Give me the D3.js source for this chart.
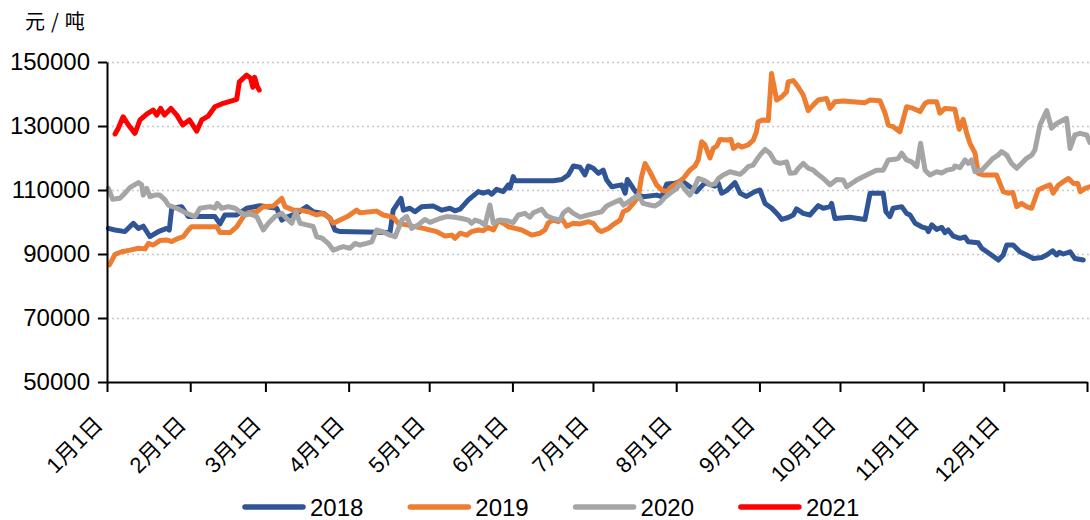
<!DOCTYPE html>
<html><head><meta charset="utf-8">
<script src="https://cdn.jsdelivr.net/npm/d3@7"></script>
<style>body{margin:0;background:#fff;}svg{display:block;}</style>
</head><body><svg id="c" width="1090" height="520"></svg>
<script>
// ---- data (x = day of year, 0 = Jan 1) ----
const monthDays = [0,31,59,90,120,151,181,212,243,273,304,334,365];
const monthLabels = ["1月1日","2月1日","3月1日","4月1日","5月1日","6月1日","7月1日","8月1日","9月1日","10月1日","11月1日","12月1日"];
const yTicks = [50000,70000,90000,110000,130000,150000];
const yUnit = "元/吨";
const seriesNames = ["2018","2019","2020","2021"];

const days2018 = [0.5,3,6.7,9.8,11.7,13.5,16,19.1,22.2,23.2,24.1,27.8,30.3,40.2,42.1,43.9,48.3,52,57,63.2,65.1,67.5,70.7,74.4,76.8,80.6,83.1,84.9,86.8,105.4,106.6,109.5,110.4,112.8,114.7,117.2,121.5,124.7,127.7,129.6,131.5,134.6,138.3,140.1,142,143.3,145.1,147.6,149.5,150.1,151.3,152,166.2,169.4,171.8,173.7,176.2,178,179.3,181.1,183,184.8,186.1,188,191.7,193,193.8,196,197.9,199.7,204.7,206.6,208.5,211.5,214,217.1,219.6,222.7,226.4,227.7,228.9,230.8,233.9,235.8,238.2,241.3,243.2,245.1,247.6,250,251.3,253.7,255.6,256.8,259.3,261.8,264.9,266.8,269.3,269.9,271.1,276.7,282.3,284.2,289.1,290.1,291.6,292.8,296,297.8,299.1,301,303.4,305.3,305.9,307.2,309,310.9,312.1,313.3,315.2,317.7,319.6,320.8,324.5,325.8,328.9,332,333.8,335.1,337.5,340,342.5,345,348.1,350,352.2,353.7,354.7,356.2,358.7,360.5,363.6];
const vals2018 = [98000,97500,97000,99600,98000,98700,95400,97000,98000,97500,104300,104800,101700,101700,99400,102200,102200,104300,105100,104300,100600,101700,102700,104800,103200,102700,101100,97500,97000,96700,103700,107400,103700,104300,103200,104800,105000,103700,104300,103500,104000,106900,109500,109000,109500,108700,110200,109500,111600,110600,114200,112900,112900,113300,114700,117500,117100,114700,117500,116800,115200,116200,113100,111000,111600,109000,113300,110500,108400,107900,108400,107900,111900,112100,112900,111000,109500,112300,111200,112100,109000,109800,112300,109000,108000,109500,110000,105800,104300,102200,100800,101400,102200,104100,102700,102200,105100,104300,104800,105800,101100,101500,100800,109000,109000,103200,101700,104300,104800,102700,102200,99600,98500,98000,97000,99100,97700,98300,96700,97500,95600,94900,95300,93800,93500,91800,90000,88100,89700,92800,92800,90700,89700,88600,88900,89700,91000,89700,90500,90000,90700,88600,88100];

const days2019 = [0.9,3,5.5,8.6,11.7,14.2,15.4,17.2,19.7,22.2,24.1,26.6,28.4,30.3,31.5,40.9,42.1,45.8,48.3,50.8,52,55.8,58.2,61.9,65.1,66.3,69.4,71.9,75,78.1,80,82.4,84.3,86.8,89.9,93,94.2,100.4,102.9,106.6,108.5,111.6,117.8,122.8,125.9,128.4,129.6,131.5,134,135.8,138.3,140.1,142,143.9,145.7,147.6,149.5,152,154.5,158.2,161.3,163.1,164.4,166.2,168.1,169.4,171.2,173.7,176.2,179.3,181.1,183,184.2,186.7,189.2,191.1,192.3,194.2,196,197.9,199.1,200.4,202.2,204.7,206.6,208.5,210.3,212.2,214.6,217.1,219,220.2,221.5,222.7,224.6,225.8,227.1,228.3,230.8,232.4,233.3,235.1,236.4,238.8,240.7,241.9,242.5,244.4,246.3,247.5,249.4,251.3,253.1,253.7,255.6,257.5,259.3,261.2,263.1,264.9,268,269.3,271.1,274.2,282.3,284.2,287.9,289.8,291,292.8,295.3,297.8,300.3,302.8,304.7,305.9,309,310.2,312.1,315.8,317.4,318.9,320.2,321.4,323.3,324.5,326.3,331.3,333.8,335.6,337.4,338.8,340.6,342.5,344.4,346.8,349.3,351.2,352.4,354.3,356.2,358.1,360,361.6,362.5,364.3,366];
const vals2019 = [86600,89900,90700,91200,91800,91600,93300,92800,94200,94400,93900,94900,95400,97500,98500,98500,96700,96700,98500,101700,102700,103200,104800,105000,107400,104800,103700,103700,103200,102200,102700,101700,99600,100600,101900,103700,102900,103400,102200,101500,99600,99100,98000,97000,95600,95900,94900,96500,95900,97000,97500,97300,98300,97500,100400,99600,98500,98000,97500,95900,96500,97500,99800,100600,100100,101100,98700,99600,99400,100100,99600,97500,97000,98000,99600,100600,103200,104000,105800,107900,114200,118300,115700,111600,110000,109500,111000,112100,113600,116200,117500,119400,125100,124100,120000,123000,123700,125800,125600,125800,123000,124100,123400,124100,125600,128200,131300,131900,131700,146400,138100,139100,140700,143800,144200,142100,139700,134800,136600,138100,138600,135500,137600,137800,137300,138100,137900,134000,130300,129800,128200,136000,135500,134500,137100,137600,137600,134000,135500,135200,129000,132100,127700,124600,121500,115200,114700,114700,109500,109000,109200,104800,105800,104800,104300,110000,111000,111600,109000,111500,112600,113600,112000,112000,109500,110500,111000];

const days2020 = [0.5,2.1,4.8,6.7,8.6,11.7,12.9,13.5,14.8,16,17.9,19.7,21.6,22.8,26,29.7,32.8,34.6,38.4,40.2,41.1,42.7,45.2,47.7,49.5,51.4,53.3,55.8,58.2,60.1,62.6,65.1,66.9,68.8,70.4,71.9,74.4,76.8,78.1,80,82.4,84.3,86.2,88,90.5,92.4,94.2,96.7,98.6,100.4,102.9,105.4,107.3,109.8,111.6,113.5,115.9,118.4,120.3,124,126.5,129.6,132.1,134.6,135.8,137.1,138.9,140.8,142.6,143.9,146.4,148.9,151.3,153.2,155.7,157.5,158.8,161.9,163.8,166.2,168.7,170,171.8,173.7,176.2,179.3,181.7,184.2,186.1,188.6,191.1,192.3,194.2,196,197.9,199.7,202.2,204.1,206,207.8,209.7,212.2,213.4,214.6,215.9,217.1,218.6,220.2,222.1,223.3,224.6,226.4,227.7,229.5,232,233.9,235.8,237,238.8,240.7,241.9,243.2,245.1,246.9,248.8,250.7,253.1,254.4,256.3,257.5,259.3,261.2,263.1,264.3,266.8,269.3,271.8,274.2,275.5,279.2,282.9,286.6,289.1,291,293.5,294.7,296,297.8,299.7,301.6,303,304.7,306.5,309,310.9,312.8,315.2,315.8,317.7,319.6,320.8,322,323.3,325.8,328.2,330,331.9,333.2,335.1,336.9,338.8,340.6,342.5,344.4,345.6,347.5,350,351.8,353.7,357.4,358.7,360.5,362.4,364.9,366.1];
const vals2020 = [110500,107100,107400,109000,110800,112300,111600,108400,110500,107900,108400,108400,106900,105300,104300,102700,101700,104300,104800,104300,105800,104300,104800,104300,103200,102200,102500,101700,97500,99600,101700,102700,101100,99600,103200,99600,99100,98600,95400,95000,93300,91200,91800,92300,91800,93300,92800,93300,93800,97500,96900,95900,95400,100600,101700,98000,99100,100800,99900,101100,101700,101500,101100,100600,99600,100600,100100,99100,105300,99600,100600,100400,99800,102200,102700,101500,102900,104000,101900,101100,100600,102900,104000,102700,101500,102200,102700,103200,105000,106000,106900,105300,106300,107400,108400,105800,105300,105000,106000,107700,109000,110500,112100,111000,109500,108400,110500,113600,113100,112600,111600,111900,113600,114700,115700,115300,114900,115700,117300,117800,119400,120900,122700,121500,118800,118300,118800,115200,115400,116800,118300,116800,116200,115200,113600,111600,113300,113100,111000,113100,114700,116200,116200,119400,119600,119900,121500,119400,118800,117300,124600,116200,114700,115700,115300,116200,116600,117500,117000,119400,118300,119400,115700,116200,118300,119900,120900,122000,120900,118300,116800,118300,119900,120900,122500,130300,134800,129300,130800,132400,123000,127200,127700,127200,124800];

const days2021 = [3,4.2,6,8,10.4,12.3,14.8,17.2,18.5,20,21.4,23.8,26,28.2,30.7,33.4,35.3,37.7,40.2,43.3,48.3,49.3,52,53.5,54.3,55,56,56.7];
const vals2021 = [127500,129300,132900,130300,127700,131900,133700,135000,133400,135500,133400,135500,133400,130300,131900,128400,131900,133100,136000,137100,138300,143800,145900,144900,142100,145200,142300,141200];

const seriesDays = [days2018, days2019, days2020, days2021];
const seriesVals = [vals2018, vals2019, vals2020, vals2021];
const colors = ["#2F5597","#ED7D31","#A5A5A5","#FF0000"];

// ---- drawing ----
const svg = d3.select("#c");
const x = d3.scaleLinear().domain([0,365]).range([107,1087]);
const y = d3.scaleLinear().domain([50000,150000]).range([382,62]);
const numFont = "'Liberation Sans', Arial, sans-serif";
const cjkFont = "'Liberation Sans', 'Noto Sans CJK SC', sans-serif";

// gridlines
svg.append("g").selectAll("line").data(yTicks.filter(d => d > 50000)).join("line")
  .attr("x1", 107).attr("x2", 1090)
  .attr("y1", d => Math.round(y(d)) + 0.5).attr("y2", d => Math.round(y(d)) + 0.5)
  .attr("stroke", "#c8c8c8").attr("stroke-width", 1.5).attr("stroke-dasharray", "2,3");

// lines
const line = d3.line().x(d => x(d[0])).y(d => y(d[1]));
seriesNames.forEach((name, i) => {
  const pts = seriesDays[i].map((d, j) => [d, seriesVals[i][j]]);
  svg.append("path").datum(pts).attr("d", line)
    .attr("fill", "none").attr("stroke", colors[i]).attr("stroke-width", 5)
    .attr("stroke-linejoin", "round").attr("stroke-linecap", "round");
});

// y axis
const yAxis = svg.append("g").attr("transform", "translate(107,0)")
  .call(d3.axisLeft(y).tickValues(yTicks).tickSize(9).tickSizeOuter(0).tickPadding(8).tickFormat(d3.format("d")));
yAxis.select(".domain").attr("stroke", "#000").attr("stroke-width", 2);
yAxis.selectAll(".tick line").attr("stroke", "#000").attr("stroke-width", 2);
yAxis.selectAll("text").attr("font-family", numFont).attr("font-size", 24).attr("fill", "#000");

// x axis
const xAxis = svg.append("g").attr("transform", "translate(0,382)")
  .call(d3.axisBottom(x).tickValues(monthDays).tickSize(10).tickSizeOuter(0).tickFormat(""));
xAxis.select(".domain").attr("stroke", "#000").attr("stroke-width", 2);
xAxis.selectAll(".tick line").attr("stroke", "#000").attr("stroke-width", 2);

svg.append("g").selectAll("text").data(monthLabels).join("text")
  .attr("transform", (d, i) => `translate(${x(monthDays[i]) - 3},426) rotate(-45)`)
  .attr("text-anchor", "end")
  .attr("font-family", cjkFont).attr("font-size", 22).attr("fill", "#000")
  .text(d => d);

// unit label
svg.append("text").attr("x", 25).attr("y", 29).attr("font-family", "'Noto Sans CJK SC', sans-serif")
  .attr("font-size", 20).attr("letter-spacing", 6).attr("fill", "#000").text(yUnit);

// legend
const lg = svg.append("g").attr("transform", "translate(245,507)");
seriesNames.forEach((name, i) => {
  const gx = i * 165.3;
  lg.append("line").attr("x1", gx).attr("x2", gx + 58).attr("y1", 0).attr("y2", 0)
    .attr("stroke", colors[i]).attr("stroke-width", 5.5).attr("stroke-linecap", "round");
  lg.append("text").attr("x", gx + 65).attr("y", 9).attr("font-family", numFont)
    .attr("font-size", 24).attr("fill", "#000").text(name);
});
</script></body></html>
